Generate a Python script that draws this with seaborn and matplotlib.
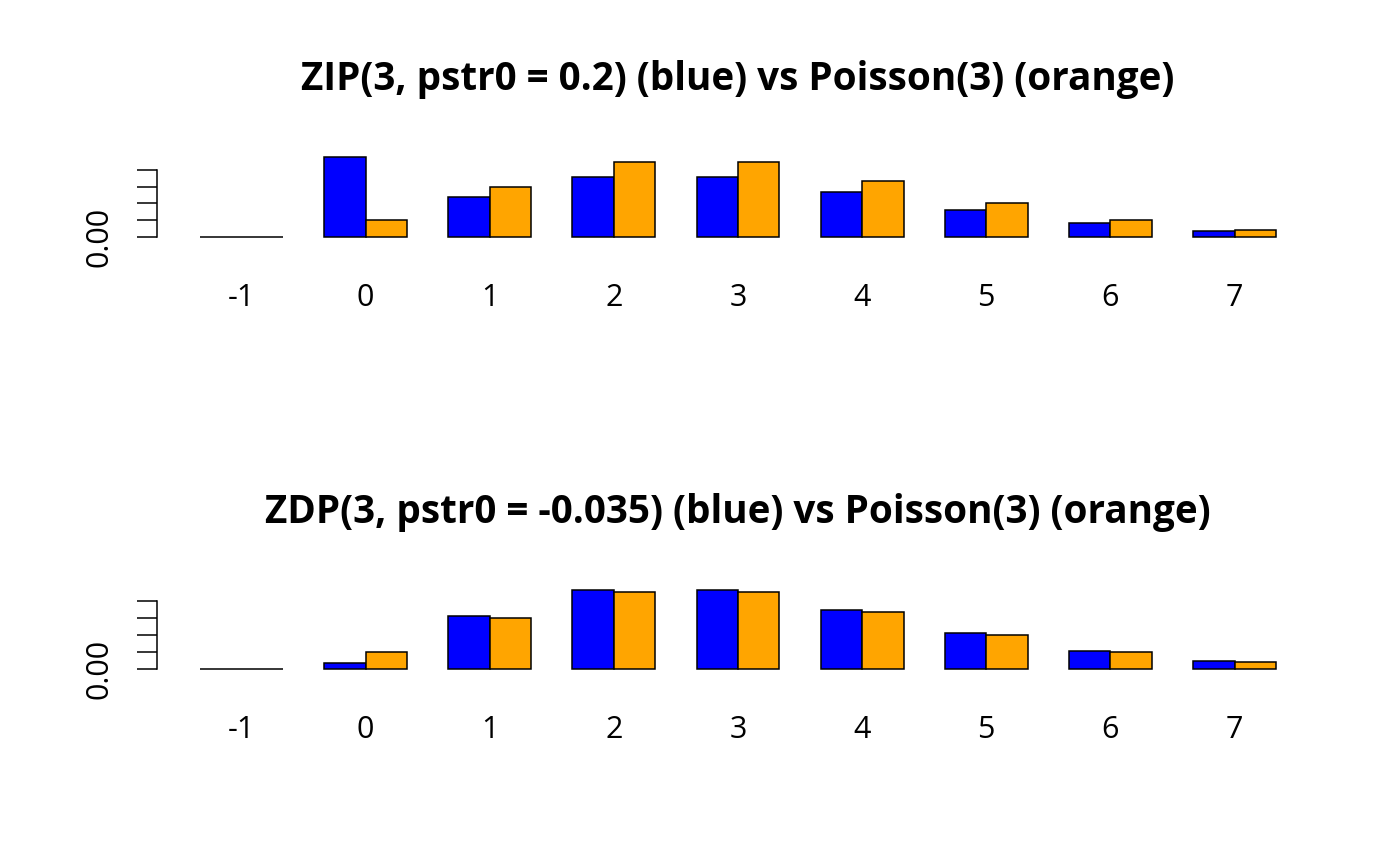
import numpy as np
import pandas as pd
import matplotlib
matplotlib.use("Agg")
import matplotlib.pyplot as plt
import seaborn as sns

# values
counts = ["-1", "0", "1", "2", "3", "4", "5", "6", "7"]
zip_probs = [0.0, 0.2398, 0.1195, 0.1792, 0.1792, 0.1344, 0.0806, 0.0403, 0.0173]
zdp_probs = [0.0, 0.0165, 0.1546, 0.2318, 0.2318, 0.1739, 0.1043, 0.0522, 0.0224]
pois_probs = [0.0, 0.0498, 0.1494, 0.2240, 0.2240, 0.1680, 0.1008, 0.0504, 0.0216]
y_ticks = [0.0, 0.05, 0.10, 0.15, 0.20]

titles = ["ZIP(3, pstr0 = 0.2) (blue) vs Poisson(3) (orange)",
          "ZDP(3, pstr0 = -0.035) (blue) vs Poisson(3) (orange)"]

sns.set_style("white")
plt.rcParams["font.family"] = ["Open Sans", "Noto Sans", "DejaVu Sans"]
plt.rcParams["text.color"] = "black"
plt.rcParams["xtick.color"] = "black"
plt.rcParams["ytick.color"] = "black"
plt.rcParams["axes.edgecolor"] = "black"

W, H = 1400, 866
fig = plt.figure(figsize=(14, 8.66), dpi=100)

# plot regions in pixels: (left, right, top, bottom)
regions = [(157, 1319, 153.5, 240), (157, 1319, 586.6, 672.2)]

for (l, r, t, b), model, title in zip(regions, [zip_probs, zdp_probs], titles):
    ax = fig.add_axes([l / W, 1 - b / H, (r - l) / W, (b - t) / H])
    df = pd.DataFrame({
        "x": counts * 2,
        "dist": ["model"] * len(counts) + ["pois"] * len(counts),
        "prob": model + pois_probs,
    })
    sns.barplot(data=df, x="x", y="prob", hue="dist", order=counts,
                hue_order=["model", "pois"], palette=["blue", "orange"],
                saturation=1, width=2 / 3, gap=0, dodge=True, legend=False,
                edgecolor="black", linewidth=1.1, ax=ax)
    m = max(max(model), max(pois_probs))
    ax.set_ylim(-0.04 * m, 1.04 * m)
    ax.set_xlim(-0.68, 8.68)
    for s in ["top", "right", "bottom"]:
        ax.spines[s].set_visible(False)
    ax.spines["left"].set_bounds(0, 0.20)
    ax.spines["left"].set_linewidth(1.1)
    ax.set_yticks(y_ticks)
    ax.set_yticklabels(["0.00", "", "", "", ""], rotation=90, va="center")
    ax.tick_params(axis="y", length=14.5, width=1.1, direction="out",
                   labelsize=22, pad=16, left=True)
    ax.tick_params(axis="x", length=0, labelsize=22, pad=31)
    ax.set_xlabel("")
    ax.set_ylabel("")
    ax.set_title(title, fontsize=27.8, fontweight="bold", pad=46)

fig.savefig("out.png", dpi=100)
